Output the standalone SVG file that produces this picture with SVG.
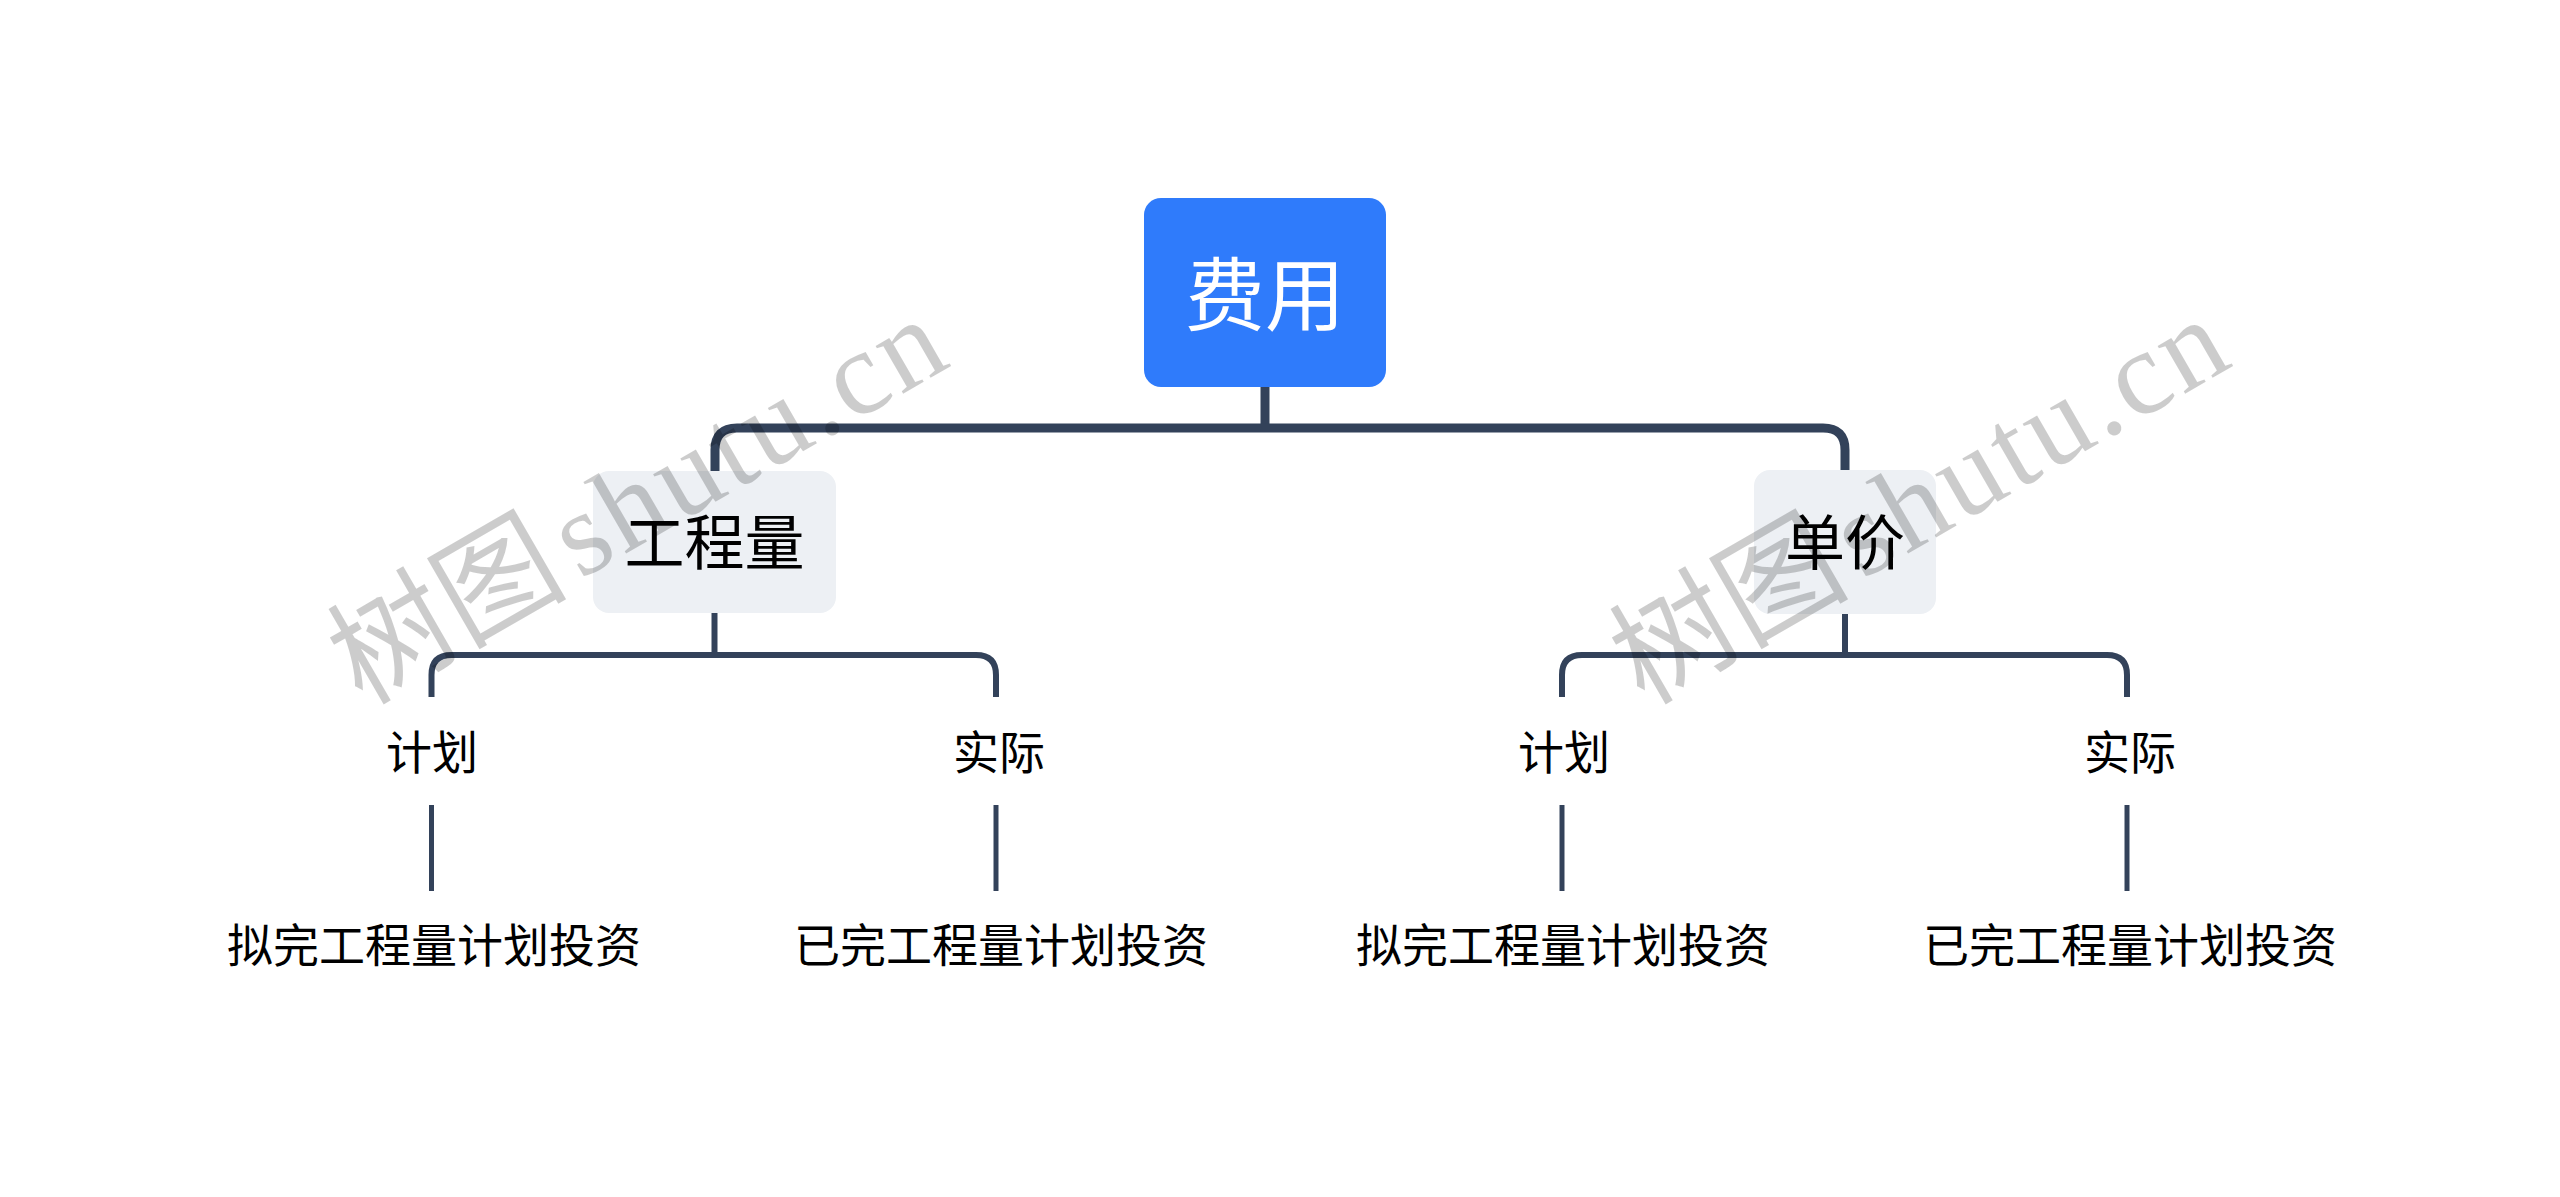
<svg xmlns="http://www.w3.org/2000/svg" width="2560" height="1197" viewBox="0 0 2560 1197">
<style>
.txt{font-family:"Noto Sans CJK SC","Noto Sans",sans-serif;text-anchor:middle;dominant-baseline:central;fill:#000}
.root-t{font-size:80px;fill:#fff}
.l1-t{font-size:60px}
.l2-t{font-size:46px}
.conn{fill:none;stroke:#33425a;stroke-linecap:butt}
.c0{stroke-width:9}
.c1{stroke-width:6}
.c2{stroke-width:5}
.wm{font-size:120px;fill:#000;fill-opacity:0.2}
</style>
<rect width="2560" height="1197" fill="#fff"/>
<g id="connectors">
<path class="conn c0" d="M1265 387 V428"/>
<path class="conn c0" d="M715 472 V450 Q715 428 737 428 H1823 Q1845 428 1845 450 V471"/>
<path class="conn c1" d="M714.5 613 V655"/>
<path class="conn c1" d="M431.5 697 V675 Q431.5 655 451.5 655 H976 Q996 655 996 675 V697"/>
<path class="conn c1" d="M1845 614 V655"/>
<path class="conn c1" d="M1562 697 V675 Q1562 655 1582 655 H2107 Q2127 655 2127 675 V697"/>
<path class="conn c2" d="M431.5 805 V891"/>
<path class="conn c2" d="M996 805 V891"/>
<path class="conn c2" d="M1562 805 V891"/>
<path class="conn c2" d="M2127 805 V891"/>
</g>
<g id="node-root">
<rect x="1144" y="198" width="242" height="189" rx="17" fill="#2f7bfb"/>
<text class="txt root-t" x="1265" y="289">费用</text>
</g>
<g id="node-gongchengliang">
<rect x="593" y="471" width="243" height="142" rx="16" fill="#edf0f4"/>
<text class="txt l1-t" x="714.5" y="538">工程量</text>
</g>
<g id="node-danjia">
<rect x="1754" y="470" width="182" height="144" rx="16" fill="#edf0f4"/>
<text class="txt l1-t" x="1845" y="538">单价</text>
</g>
<g id="node-jihua-1"><text class="txt l2-t" x="432" y="749">计划</text></g>
<g id="node-shiji-1"><text class="txt l2-t" x="999" y="749">实际</text></g>
<g id="node-jihua-2"><text class="txt l2-t" x="1564" y="749">计划</text></g>
<g id="node-shiji-2"><text class="txt l2-t" x="2130" y="749">实际</text></g>
<g id="node-leaf-1"><text class="txt l2-t" x="434" y="942">拟完工程量计划投资</text></g>
<g id="node-leaf-2"><text class="txt l2-t" x="1001" y="942">已完工程量计划投资</text></g>
<g id="node-leaf-3"><text class="txt l2-t" x="1563" y="942">拟完工程量计划投资</text></g>
<g id="node-leaf-4"><text class="txt l2-t" x="2130" y="942">已完工程量计划投资</text></g>
<g id="watermarks">
<text class="wm" transform="translate(362,706) rotate(-30)"><tspan font-family="Noto Sans CJK SC, sans-serif">树图</tspan><tspan x="252" font-family="Liberation Serif, serif" textLength="430" lengthAdjust="spacing">shutu.cn</tspan></text>
<text class="wm" transform="translate(1644,706) rotate(-30)"><tspan font-family="Noto Sans CJK SC, sans-serif">树图</tspan><tspan x="252" font-family="Liberation Serif, serif" textLength="430" lengthAdjust="spacing">shutu.cn</tspan></text>
</g>
</svg>
